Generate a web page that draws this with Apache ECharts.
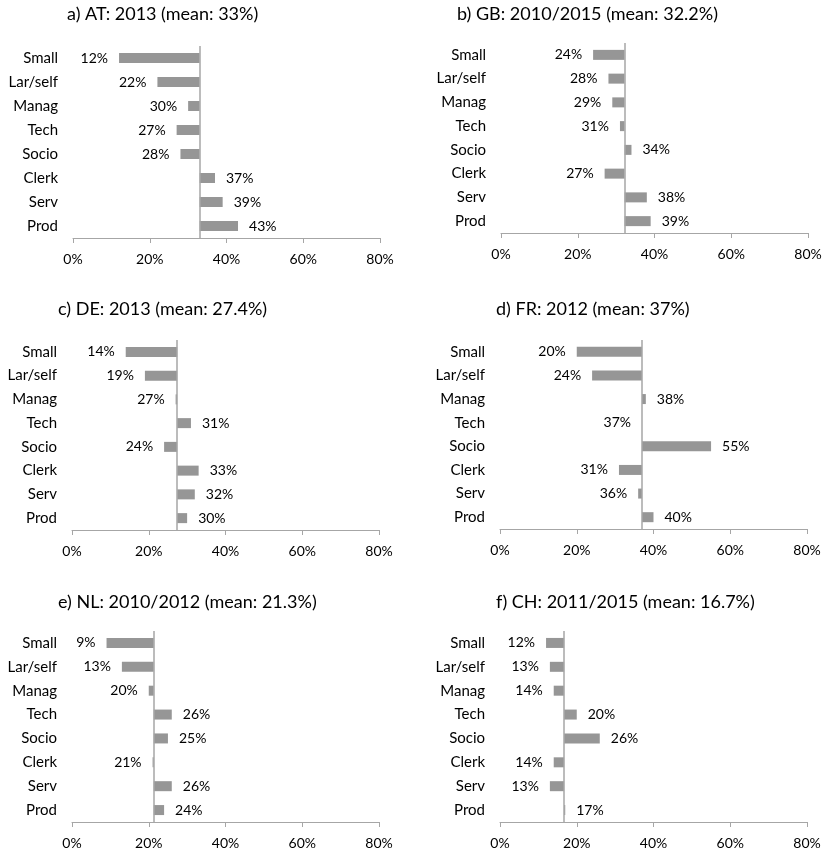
<!DOCTYPE html>
<html>
<head>
<meta charset="utf-8">
<script src="https://cdn.jsdelivr.net/npm/echarts@6/dist/echarts.min.js"></script>
<style>
html,body{margin:0;padding:0;background:#fff;}
#chart{width:828px;height:853px;}
</style>
</head>
<body>
<div id="chart"></div>
<script>
const categories = ['Small', 'Lar/self', 'Manag', 'Tech', 'Socio', 'Clerk', 'Serv', 'Prod'];
const panelTitles = [
  'a) AT: 2013 (mean: 33%)',
  'b) GB: 2010/2015 (mean: 32.2%)',
  'c) DE: 2013 (mean: 27.4%)',
  'd) FR: 2012 (mean: 37%)',
  'e) NL: 2010/2012 (mean: 21.3%)',
  'f) CH: 2011/2015 (mean: 16.7%)'
];
const means = [33, 32.2, 27.4, 37, 21.3, 16.7];
const atValues = [12, 22, 30, 27, 28, 37, 39, 43];
const gbValues = [24, 28, 29, 31, 34, 27, 38, 39];
const deValues = [14, 19, 27, 31, 24, 33, 32, 30];
const frValues = [20, 24, 38, 37, 55, 31, 36, 40];
const nlValues = [9, 13, 20, 26, 25, 21, 26, 24];
const chValues = [12, 13, 14, 20, 26, 14, 13, 17];
const xTicks = { min: 0, max: 80, interval: 20 };

const panelValues = [atValues, gbValues, deValues, frValues, nlValues, chValues];

// layout (pixels)
const layout = [
  { left: 73,  top: 46,  height: 192, titleLeft: 67,  titleTop: 5 },
  { left: 501, top: 43,  height: 190, titleLeft: 457, titleTop: 5 },
  { left: 72,  top: 340, height: 190, titleLeft: 58,  titleTop: 300 },
  { left: 500, top: 340, height: 189, titleLeft: 496, titleTop: 300 },
  { left: 72,  top: 631, height: 191, titleLeft: 58,  titleTop: 593 },
  { left: 500, top: 631, height: 191, titleLeft: 496, titleTop: 593 }
];
const plotWidth = 307;
const FONT = 'Lato';
const gray = '#969696';
const axisGray = '#a6a6a6';

const option = {
  animation: false,
  backgroundColor: '#fff',
  textStyle: { fontFamily: FONT },
  title: [], grid: [], xAxis: [], yAxis: [], series: []
};

panelValues.forEach((vals, i) => {
  const L = layout[i];
  const mean = means[i];
  option.title.push({
    text: panelTitles[i], left: L.titleLeft, top: L.titleTop, padding: 0,
    textStyle: { fontFamily: FONT, fontSize: 18, fontWeight: 'normal', color: '#000' }
  });
  option.grid.push({ left: L.left, top: L.top, width: plotWidth, height: L.height, containLabel: false });
  option.xAxis.push({
    type: 'value', gridIndex: i, min: xTicks.min, max: xTicks.max, interval: xTicks.interval,
    axisLine: { show: true, lineStyle: { color: axisGray, width: 1 } },
    axisTick: { show: true, length: 5, lineStyle: { color: axisGray } },
    splitLine: { show: false },
    axisLabel: { formatter: '{value}%', fontFamily: FONT, fontSize: 14, color: '#000', margin: 14 }
  });
  option.yAxis.push({
    type: 'category', gridIndex: i, data: categories, inverse: true,
    axisLine: { show: false }, axisTick: { show: false }, splitLine: { show: false },
    axisLabel: { fontFamily: FONT, fontSize: 15, color: '#000', margin: 15 }
  });
  option.series.push({
    type: 'bar', xAxisIndex: i, yAxisIndex: i, stack: 'p' + i, silent: true,
    barWidth: 10,
    itemStyle: { color: 'transparent' },
    data: vals.map(v => Math.min(v, mean))
  });
  option.series.push({
    type: 'bar', xAxisIndex: i, yAxisIndex: i, stack: 'p' + i, silent: true,
    barWidth: 10,
    itemStyle: { color: gray },
    data: vals.map(v => ({
      value: Math.abs(v - mean),
      label: { position: v <= mean ? 'left' : 'right' }
    })),
    label: {
      show: true, distance: 11, fontFamily: FONT, fontSize: 14, color: '#000',
      formatter: p => vals[p.dataIndex] + '%'
    },
    markLine: {
      silent: true, symbol: ['none', 'none'], label: { show: false },
      lineStyle: { color: axisGray, width: 1.5, type: 'solid' },
      data: [{ xAxis: mean }]
    }
  });
});

const chart = echarts.init(document.getElementById('chart'), null, { renderer: 'canvas' });
chart.setOption(option);
</script>
</body>
</html>
